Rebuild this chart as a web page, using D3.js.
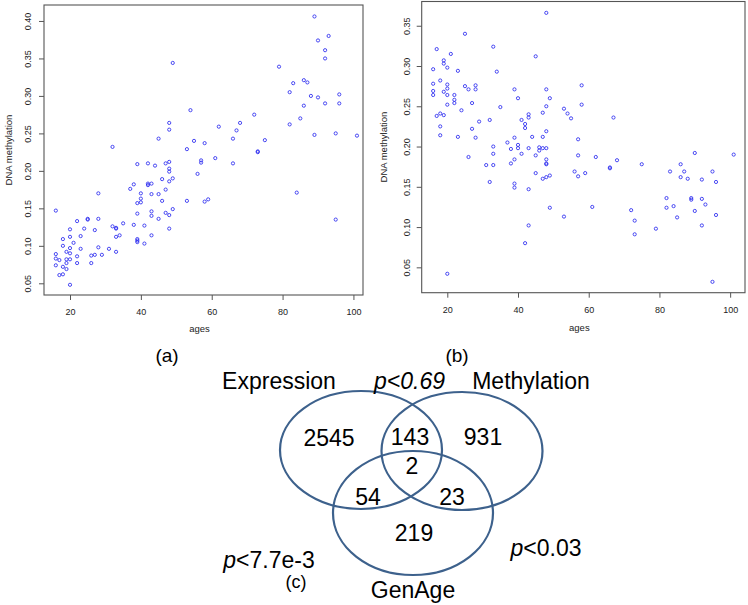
<!DOCTYPE html>
<html><head><meta charset="utf-8">
<script src="https://cdn.jsdelivr.net/npm/d3@7"></script>
<style>
html,body{margin:0;padding:0;background:#fff;}
svg{display:block;}
</style></head>
<body>
<svg id="c" width="748" height="605"></svg>
<script>
// ---- Panel (a): ages vs DNA methylation (increasing) ----
const agesA = [49,32,45,48,48,53,54,39,42,44,47,48,48,
  89,93,90,92,92,79,83,86,87,82,88,90,96,96,92,86,72,68,62,67,85,82,89,95,101,55,58,66,75,
  73,73,61,57,57,66,49,56,53,58,59,49,84,95,
  16,48,46,42,42,43,38,37,48,47,40,43,45,28,40,46,39,40,43,39,43,47,48,45,25,25,22,28,35,38,41,32,33,33,24,20,27,48,
  34,33,43,23,20,18,39,39,39,41,21,18,20,23,28,31,19,20,33,16,29,27,26,22,16,17,19,20,19,22,26,16,18,19,17,18,20];
const methA = [0.344,0.232,0.243,0.264,0.255,0.229,0.281,0.209,0.210,0.207,0.210,0.212,0.203,
  0.406,0.380,0.374,0.361,0.350,0.339,0.317,0.321,0.318,0.305,0.300,0.298,0.302,0.290,0.290,0.287,0.275,0.264,0.259,0.254,0.270,0.262,0.248,0.250,0.247,0.240,0.237,0.243,0.241,
  0.225,0.226,0.217,0.214,0.211,0.210,0.190,0.196,0.160,0.159,0.162,0.149,0.171,0.135,
  0.147,0.199,0.189,0.183,0.181,0.183,0.182,0.176,0.186,0.175,0.170,0.169,0.169,0.170,0.163,0.160,0.157,0.158,0.146,0.143,0.140,0.144,0.141,0.136,0.136,0.135,0.133,0.136,0.130,0.128,0.127,0.126,0.124,0.123,0.123,0.122,0.121,0.123,
  0.114,0.112,0.114,0.113,0.112,0.109,0.109,0.107,0.105,0.103,0.104,0.100,0.097,0.096,0.098,0.096,0.092,0.090,0.092,0.089,0.088,0.088,0.087,0.086,0.083,0.081,0.082,0.082,0.077,0.077,0.077,0.074,0.072,0.069,0.061,0.062,0.048];

// ---- Panel (b): ages vs DNA methylation (decreasing) ----
const agesB = [48,25,17,33,21,19,19,20,16,23,34,45,16,18,20,25,28,28,26,20,16,19,16,20,22,22,22,20,27,24,39,48,40,49,35,48,
  17,18,19,29,32,41,43,43,42,47,42,27,48,18,18,23,28,39,44,47,37,33,40,40,38,43,46,47,48,46,33,41,45,26,39,38,48,48,48,31,33,
  32,39,39,43,45,47,48,49,49,43,42,20,
  58,58,53,54,55,67,57,57,62,68,66,66,75,86,90,101,
  56,57,59,83,87,86,88,92,95,96,53,61,72,73,73,79,82,82,84,85,89,89,92,93,90,96,92,95];
const methB = [0.366,0.340,0.321,0.324,0.315,0.307,0.303,0.298,0.296,0.294,0.293,0.312,0.278,0.282,0.277,0.275,0.276,0.271,0.271,0.272,0.269,0.268,0.264,0.264,0.264,0.258,0.254,0.252,0.254,0.245,0.271,0.271,0.260,0.260,0.249,0.250,
  0.238,0.241,0.239,0.231,0.233,0.233,0.240,0.236,0.228,0.242,0.223,0.222,0.219,0.225,0.214,0.212,0.211,0.211,0.212,0.212,0.205,0.200,0.202,0.198,0.197,0.198,0.199,0.198,0.198,0.195,0.191,0.191,0.189,0.187,0.184,0.179,0.184,0.179,0.178,0.177,0.177,
  0.156,0.154,0.149,0.147,0.167,0.160,0.162,0.164,0.124,0.102,0.080,0.042,
  0.276,0.252,0.247,0.241,0.235,0.236,0.209,0.189,0.187,0.183,0.174,0.173,0.178,0.178,0.192,0.190,
  0.169,0.163,0.167,0.169,0.169,0.162,0.160,0.159,0.169,0.156,0.113,0.125,0.121,0.108,0.091,0.098,0.136,0.124,0.126,0.112,0.136,0.134,0.135,0.128,0.120,0.115,0.102,0.032];

const xTicks = [20,40,60,80,100];
const yTicksA = [0.05,0.10,0.15,0.20,0.25,0.30,0.35,0.40];
const yTicksB = [0.05,0.10,0.15,0.20,0.25,0.30,0.35];
const xTitle = "ages";
const yTitle = "DNA methylation";
const panelLabels = ["(a)","(b)","(c)"];

// ---- Panel (c): Venn diagram ----
const vennSets = ["Expression","Methylation","GenAge"];
const vennCounts = [2545, 931, 219, 143, 54, 23, 2]; // E only, M only, G only, E∩M, E∩G, M∩G, all
const pValues = ["0.69","7.7e-3","0.03"]; // E–M, E–G, M–G

const svg = d3.select("#c");
const FONT = "'Liberation Sans', Arial, Helvetica, sans-serif";

function scatter(cfg){
  const x = d3.scaleLinear().domain(cfg.xd).range([cfg.l, cfg.r]);
  const y = d3.scaleLinear().domain(cfg.yd).range([cfg.b, cfg.t]);
  const g = svg.append("g");
  const pts = cfg.xs.map((v,i)=>({a:v, m:cfg.ys[i]}));
  g.selectAll("circle").data(pts).enter().append("circle")
    .attr("cx", d=>x(d.a)).attr("cy", d=>y(d.m)).attr("r", 1.6)
    .attr("fill","none").attr("stroke","#2b2bf0").attr("stroke-width",0.85);
  g.append("rect").attr("x",cfg.l).attr("y",cfg.t)
    .attr("width",cfg.r-cfg.l).attr("height",cfg.b-cfg.t)
    .attr("fill","none").attr("stroke","#555").attr("stroke-width",1.1);
  const xa = g.append("g").attr("transform",`translate(0,${cfg.b})`)
    .call(d3.axisBottom(x).tickValues(xTicks).tickSize(5).tickPadding(9).tickFormat(d3.format("d")));
  xa.select(".domain").remove();
  xa.selectAll("line").attr("stroke","#555");
  xa.selectAll("text").attr("font-family",FONT).attr("font-size",9).attr("fill","#222");
  const ya = g.append("g").attr("transform",`translate(${cfg.l},0)`)
    .call(d3.axisLeft(y).tickValues(cfg.yt).tickSize(5).tickFormat(d3.format(".2f")));
  ya.select(".domain").remove();
  ya.selectAll("line").attr("stroke","#555");
  ya.selectAll("text").attr("font-family",FONT).attr("font-size",9).attr("fill","#222")
    .attr("text-anchor","middle").attr("dy",null).attr("x",null)
    .attr("transform",`translate(${cfg.ylab - cfg.l},0) rotate(-90)`)
    .attr("dominant-baseline","central");
  g.append("text").attr("x",(cfg.l+cfg.r)/2 - 4).attr("y",cfg.b+cfg.xty)
    .attr("text-anchor","middle").attr("font-family",FONT).attr("font-size",9.5).attr("fill","#222").text(xTitle);
  g.append("text").attr("transform",`translate(${cfg.ytx},${(cfg.t+cfg.b)/2}) rotate(-90)`)
    .attr("text-anchor","middle").attr("dominant-baseline","central")
    .attr("font-family",FONT).attr("font-size",9.5).attr("fill","#222").text(yTitle);
}

scatter({xs:agesA, ys:methA, xd:[12.66,102.7], yd:[0.0344,0.4213], l:44, r:363, t:5, b:295, yt:yTicksA, ylab:28, ytx:8, xty:37});
scatter({xs:agesB, ys:methB, xd:[12.76,104.2], yd:[0.0185,0.3801], l:421.7, r:745, t:1.5, b:292.7, yt:yTicksB, ylab:407, ytx:383, xty:38});

const BIG = "'Liberation Sans', Arial, sans-serif";
svg.append("text").attr("x",167).attr("y",362).attr("text-anchor","middle")
  .attr("font-family",BIG).attr("font-size",19).text(panelLabels[0]);
svg.append("text").attr("x",457).attr("y",362).attr("text-anchor","middle")
  .attr("font-family",BIG).attr("font-size",19).text(panelLabels[1]);

// Venn ellipses
const ell = [
  {cx:361, cy:450, rx:81, ry:59},
  {cx:462, cy:451, rx:80.5, ry:59},
  {cx:413, cy:513, rx:80, ry:62}
];
svg.append("g").selectAll("ellipse").data(ell).enter().append("ellipse")
  .attr("cx",d=>d.cx).attr("cy",d=>d.cy).attr("rx",d=>d.rx).attr("ry",d=>d.ry)
  .attr("fill","none").attr("stroke","#3d618c").attr("stroke-width",2.2);

const vt = svg.append("g").attr("font-family",BIG).attr("font-size",23).attr("fill","#000");
const setPos = [[279,389],[531,389],[413,598]];
vennSets.forEach((s,i)=>vt.append("text").attr("x",setPos[i][0]).attr("y",setPos[i][1]).attr("text-anchor","middle").text(s));
const cntPos = [[329,446],[483,445],[414,541],[410,445],[368,505],[452,505],[412,474]];
vennCounts.forEach((c,i)=>vt.append("text").attr("x",cntPos[i][0]).attr("y",cntPos[i][1]).attr("text-anchor","middle").text(c));

// p-values
const p1 = vt.append("text").attr("x",409.5).attr("y",389).attr("text-anchor","middle").attr("font-style","italic");
p1.text("p<" + pValues[0]);
const p2 = vt.append("text").attr("x",269).attr("y",568).attr("text-anchor","middle");
p2.append("tspan").attr("font-style","italic").text("p");
p2.append("tspan").text("<" + pValues[1]);
const p3 = vt.append("text").attr("x",546).attr("y",556).attr("text-anchor","middle");
p3.append("tspan").attr("font-style","italic").text("p");
p3.append("tspan").text("<" + pValues[2]);
svg.append("text").attr("x",296).attr("y",588).attr("text-anchor","middle")
  .attr("font-family",BIG).attr("font-size",18).text(panelLabels[2]);
</script>
</body></html>
